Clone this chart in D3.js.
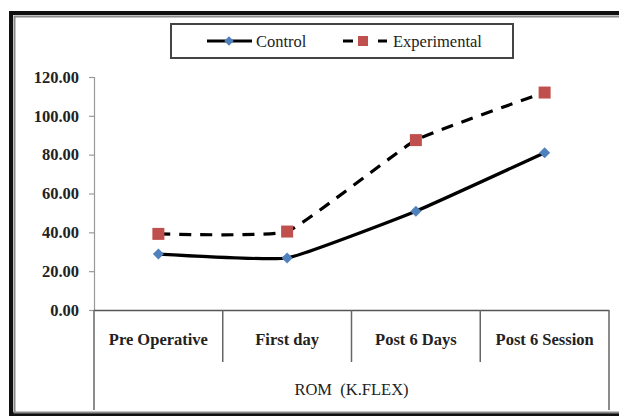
<!DOCTYPE html>
<html><head><meta charset="utf-8">
<script src="https://cdn.jsdelivr.net/npm/d3@7"></script>
<style>html,body{margin:0;padding:0;background:#fff;}svg{display:block;}</style>
</head><body>
<script>
const categories = ["Pre Operative", "First day", "Post 6 Days", "Post 6 Session"];
const control = [28.8, 26.8, 50.9, 81.0];
const experimental = [39.2, 40.4, 87.5, 112.0];
const yTicks = [0, 20, 40, 60, 80, 100, 120];
const seriesNames = ["Control", "Experimental"];
const groupLabel = "ROM\u00A0\u00A0(K.FLEX)";

const FONT = "Liberation Serif";
const W = 619, H = 419;
const svg = d3.select("body").append("svg").attr("width", W).attr("height", H);

// frame
svg.append("rect").attr("x", 11).attr("y", 13).attr("width", 640).attr("height", 401)
  .attr("fill", "none").attr("stroke", "#111").attr("stroke-width", 4);
svg.append("rect").attr("x", 14.5).attr("y", 16.5).attr("width", 640).attr("height", 396)
  .attr("fill", "none").attr("stroke", "#8a8a8a").attr("stroke-width", 2);

const x = d3.scaleBand().domain(categories).range([94, 609]).paddingInner(0).paddingOuter(0);
const y = d3.scaleLinear().domain([0, 120]).range([310, 77]);

// y axis
const yAxis = d3.axisLeft(y).tickValues(yTicks).tickSize(5).tickPadding(10)
  .tickFormat(d3.format(".2f"));
const gy = svg.append("g").attr("transform", "translate(94,0)").call(yAxis);
gy.attr("font-family", null).attr("font-size", null);
gy.select(".domain").attr("stroke", "#999").attr("stroke-width", 1.2);
gy.selectAll(".tick line").attr("stroke", "#999").attr("stroke-width", 1.2);
gy.selectAll(".tick text").style("font-family", FONT).style("font-weight", "bold")
  .style("font-size", "16.5px").attr("fill", "#222");

// x axis line & category table
svg.append("line").attr("x1", 94).attr("x2", 609).attr("y1", 310.5).attr("y2", 310.5)
  .attr("stroke", "#555").attr("stroke-width", 1.5);
const bounds = categories.map(c => x(c)).concat([x.range()[1]]);
svg.selectAll("line.div").data(bounds).enter().append("line")
  .attr("x1", d => d).attr("x2", d => d).attr("y1", 310)
  .attr("y2", (d, i) => (i === 0 || i === bounds.length - 1) ? 410 : 362)
  .attr("stroke", "#666").attr("stroke-width", 1.5);
svg.selectAll("text.cat").data(categories).enter().append("text")
  .attr("x", d => x(d) + x.bandwidth() / 2).attr("y", 345)
  .attr("text-anchor", "middle").style("font-family", FONT).style("font-weight", "bold")
  .style("font-size", "16.5px").attr("fill", "#222").text(d => d);
svg.append("text").attr("x", (94 + 609) / 2).attr("y", 395).attr("text-anchor", "middle")
  .style("font-family", FONT).style("font-size", "16.5px").attr("fill", "#222").text(groupLabel);

// lines
const cx = (i) => x(categories[i]) + x.bandwidth() / 2;
const line = d3.line().x((d, i) => cx(i)).y(d => y(d)).curve(d3.curveCardinal.tension(0.65));
svg.append("path").datum(experimental).attr("d", line).attr("fill", "none")
  .attr("stroke", "#000").attr("stroke-width", 3.2).attr("stroke-dasharray", "12,9");
svg.append("path").datum(control).attr("d", line).attr("fill", "none")
  .attr("stroke", "#000").attr("stroke-width", 3.2);

// markers
const diamond = d3.symbol().type(d3.symbolSquare).size(60);
svg.selectAll("path.cm").data(control).enter().append("path")
  .attr("d", diamond).attr("transform", (d, i) => `translate(${cx(i)},${y(d)}) rotate(45)`)
  .attr("fill", "#4F81BD");
svg.selectAll("rect.em").data(experimental).enter().append("rect")
  .attr("x", (d, i) => cx(i) - 6).attr("y", d => y(d) - 6).attr("width", 12).attr("height", 12)
  .attr("fill", "#C0504D");

// legend
const lg = svg.append("g");
lg.append("rect").attr("x", 171).attr("y", 24).attr("width", 342).attr("height", 34)
  .attr("fill", "#fff").attr("stroke", "#444").attr("stroke-width", 2);
lg.append("line").attr("x1", 207).attr("x2", 252).attr("y1", 41).attr("y2", 41)
  .attr("stroke", "#000").attr("stroke-width", 3);
lg.append("path").attr("d", d3.symbol().type(d3.symbolSquare).size(45))
  .attr("transform", "translate(229,41) rotate(45)").attr("fill", "#4F81BD");
lg.append("text").attr("x", 256).attr("y", 47).style("font-family", FONT)
  .style("font-size", "16.5px").attr("fill", "#222").text(seriesNames[0]);
lg.append("line").attr("x1", 343).attr("x2", 387).attr("y1", 41).attr("y2", 41)
  .attr("stroke", "#000").attr("stroke-width", 3).attr("stroke-dasharray", "10,25");
lg.append("rect").attr("x", 358).attr("y", 36).attr("width", 10).attr("height", 10)
  .attr("fill", "#C0504D");
lg.append("text").attr("x", 393).attr("y", 47).style("font-family", FONT)
  .style("font-size", "16.5px").attr("fill", "#222").text(seriesNames[1]);
</script>
</body></html>
